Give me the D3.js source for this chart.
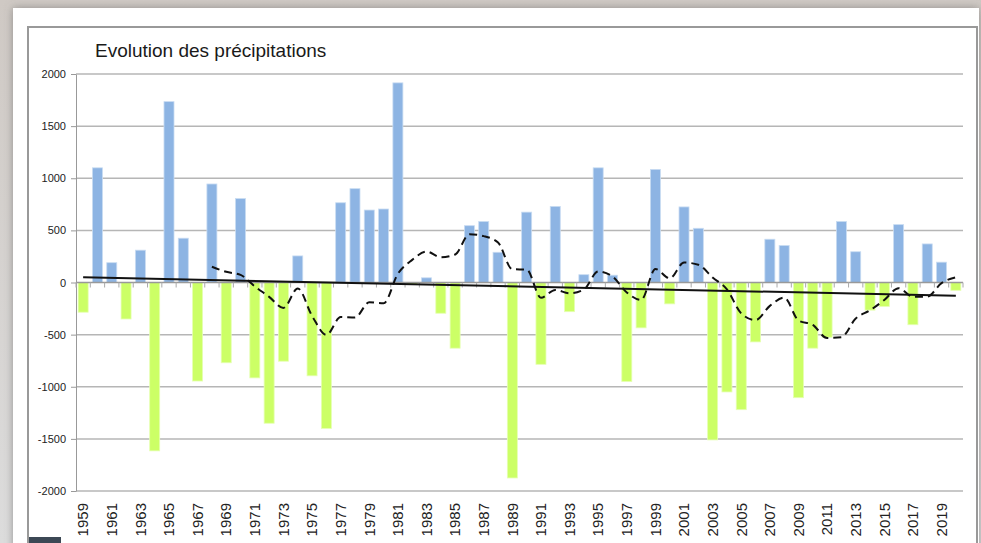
<!DOCTYPE html>
<html>
<head>
<meta charset="utf-8">
<script src="https://cdnjs.cloudflare.com/ajax/libs/d3/7.8.5/d3.min.js"></script>
<style>
  body { margin: 0; background: #d6d6d6; }
  svg { display: block; font-family: "Liberation Sans", Arial, sans-serif; }
</style>
</head>
<body>
<svg id="chart" width="981" height="543"></svg>
<script>
// precipitation anomalies per year
var years = d3.range(1959, 2021);
var values = [
  -285, 1100, 190, -350, 310, -1615, 1735, 425, -945, 945,
  -770, 805, -915, -1350, -755, 255, -895, -1400, 765, 900,
  695, 705, 1915, -15, 45, -295, -630, 545, 585, 290,
  -1875, 675, -785, 730, -280, 75, 1100, 70, -950, -435,
  1085, -205, 725, 520, -1510, -1050, -1220, -570, 415, 355,
  -1105, -630, -525, 585, 295, -265, -230, 555, -405, 370,
  195, -75
];
var yTicks = [2000, 1500, 1000, 500, 0, -500, -1000, -1500, -2000];
var xLabels = years.filter(function(d, i) { return i % 2 === 0; });
var maPeriod = 10;

var svg = d3.select("#chart");

// page / frame
var defs = svg.append("defs");
var bg = defs.append("linearGradient").attr("id", "bg").attr("x1", 0).attr("y1", 0).attr("x2", 0).attr("y2", 1);
bg.append("stop").attr("offset", "0").attr("stop-color", "#cfc9c4");
bg.append("stop").attr("offset", "1").attr("stop-color", "#dcdcdc");
var sh = defs.append("filter").attr("id", "sh").attr("x", "-5%").attr("y", "-5%").attr("width", "110%").attr("height", "110%");
sh.append("feDropShadow").attr("dx", 0).attr("dy", 0).attr("stdDeviation", 4).attr("flood-color", "#666").attr("flood-opacity", 0.6);

svg.append("rect").attr("width", 981).attr("height", 543).attr("fill", "url(#bg)");
svg.append("rect").attr("x", 13).attr("y", 8).attr("width", 966).attr("height", 560)
  .attr("fill", "#fff").attr("filter", "url(#sh)");
svg.append("rect").attr("x", 28).attr("y", 27).attr("width", 949).attr("height", 540)
  .attr("fill", "none").attr("stroke", "#999").attr("stroke-width", 2);
svg.append("rect").attr("x", 29).attr("y", 537).attr("width", 32).attr("height", 6).attr("fill", "#3c4855");

var pLeft = 76, pRight = 963, pTop = 74, pBottom = 491;

var x = d3.scaleBand().domain(years).range([pLeft, pRight]).paddingInner(0.3).paddingOuter(0.15);
var y = d3.scaleLinear().domain([-2000, 2000]).range([pBottom, pTop]);

// gridlines
svg.append("g").selectAll("line")
  .data(yTicks.filter(function(d) { return d !== 0; }))
  .enter().append("line")
  .attr("x1", pLeft).attr("x2", pRight)
  .attr("y1", function(d) { return y(d); }).attr("y2", function(d) { return y(d); })
  .attr("stroke", "#b6b6b6").attr("stroke-width", 1.5);

// y axis
var yAxis = svg.append("g")
  .attr("transform", "translate(" + pLeft + ",0)")
  .call(d3.axisLeft(y).tickValues(yTicks).tickFormat(function(d) { return String(d); })
    .tickSize(5).tickSizeOuter(0).tickPadding(5));
yAxis.select(".domain").attr("stroke", "#999");
yAxis.selectAll(".tick line").attr("stroke", "#999");
yAxis.selectAll("text").attr("font-size", "11px").attr("fill", "#222")
  .attr("font-family", "Liberation Sans, Arial, sans-serif");

// bars
svg.append("g").selectAll("rect")
  .data(values)
  .enter().append("rect")
  .attr("x", function(d, i) { return x(years[i]); })
  .attr("width", x.bandwidth())
  .attr("y", function(d) { return y(Math.max(0, d)); })
  .attr("height", function(d) { return Math.abs(y(d) - y(0)); })
  .attr("fill", function(d) { return d >= 0 ? "#8db4e3" : "#ccff66"; })
  .attr("stroke", function(d) { return d >= 0 ? "#c9dcf2" : "#e6ffb3"; })
  .attr("stroke-width", 0.8);

// category axis at zero
var step = x.step();
var xAxis = svg.append("g");
xAxis.append("line")
  .attr("x1", pLeft).attr("x2", pRight).attr("y1", y(0)).attr("y2", y(0))
  .attr("stroke", "#999").attr("stroke-width", 1.5);
xAxis.selectAll(".tk")
  .data(d3.range(years.length + 1))
  .enter().append("line")
  .attr("class", "tk")
  .attr("x1", function(d) { return pLeft + d * step; })
  .attr("x2", function(d) { return pLeft + d * step; })
  .attr("y1", y(0)).attr("y2", y(0) + 5)
  .attr("stroke", "#aaa");

// x labels
svg.append("g").selectAll("text")
  .data(xLabels)
  .enter().append("text")
  .attr("transform", function(d) {
    return "translate(" + (x(d) + x.bandwidth() / 2) + ",503) rotate(-90)";
  })
  .attr("dy", "0.35em")
  .attr("text-anchor", "end")
  .attr("font-size", "15px")
  .attr("fill", "#222")
  .text(function(d) { return d; });

// moving average (period 10)
var ma = [];
values.forEach(function(v, i) {
  if (i >= maPeriod - 1) {
    ma.push({ year: years[i], v: d3.mean(values.slice(i - maPeriod + 1, i + 1)) });
  }
});
var cx = function(yr) { return x(yr) + x.bandwidth() / 2; };
svg.append("path")
  .datum(ma)
  .attr("fill", "none")
  .attr("stroke", "#111")
  .attr("stroke-width", 2)
  .attr("stroke-dasharray", "8,5")
  .attr("d", d3.line().curve(d3.curveMonotoneX)
    .x(function(d) { return cx(d.year); })
    .y(function(d) { return y(d.v); }));

// linear trend
var n = values.length;
var mx = d3.mean(d3.range(n)), my = d3.mean(values);
var slope = d3.sum(values, function(v, i) { return (i - mx) * (v - my); }) /
            d3.sum(d3.range(n), function(i) { return (i - mx) * (i - mx); });
var icpt = my - slope * mx;
svg.append("line")
  .attr("x1", cx(years[0])).attr("y1", y(icpt))
  .attr("x2", cx(years[n - 1])).attr("y2", y(icpt + slope * (n - 1)))
  .attr("stroke", "#111").attr("stroke-width", 2);

// title
svg.append("text")
  .attr("x", 95).attr("y", 57)
  .attr("font-size", "19px")
  .attr("fill", "#1a1a1a")
  .text("Evolution des précipitations");
</script>
</body>
</html>
